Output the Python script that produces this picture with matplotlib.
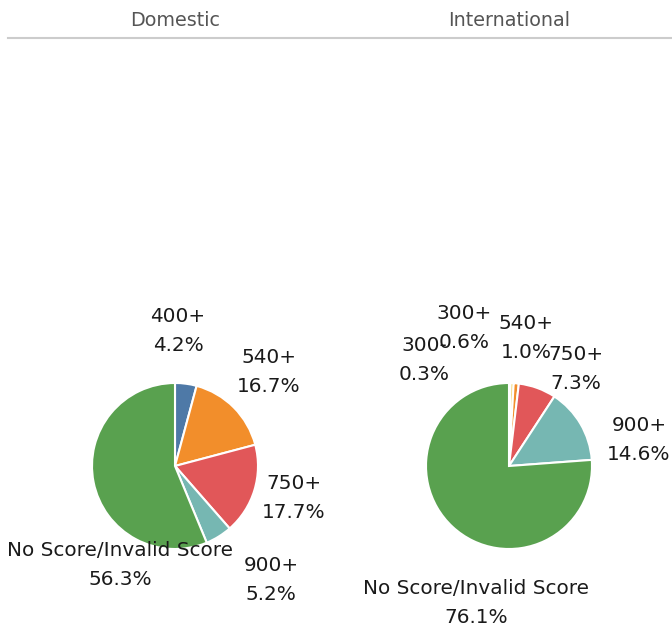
import matplotlib
matplotlib.use("Agg")
import matplotlib.pyplot as plt

# ---- data ----
dom_categories = ["400+", "540+", "750+", "900+", "No Score/Invalid Score"]
dom_values = [4.2, 16.7, 17.7, 5.2, 56.3]
int_categories = ["300-", "300+", "540+", "750+", "900+", "No Score/Invalid Score"]
int_values = [0.3, 0.6, 1.0, 7.3, 14.6, 76.1]
panel_titles = ["Domestic", "International"]

color_map = {
    "400+": "#4e79a7", "540+": "#f28e2b", "750+": "#e15759", "900+": "#76b7b2",
    "No Score/Invalid Score": "#59a14f", "300-": "#b07aa1", "300+": "#edc948",
}

# ---- layout (pixel coordinates, y measured from top) ----
W, H = 672, 632
fig = plt.figure(figsize=(W / 100, H / 100), dpi=100)
ax = fig.add_axes([0, 0, 1, 1])
ax.set_xlim(0, W)
ax.set_ylim(0, H)
ax.set_aspect("equal")
ax.axis("off")

def Y(y):
    return H - y

centers = [(175, 466), (509, 466)]
radius = 83
label_pos = [
    [(178, 331), (269, 372), (294, 498), (271, 580), (120, 565)],
    [(424, 360), (464, 328), (526, 338), (576, 369), (639, 440), (476, 603)],
]
header_x = [175, 509]

for cats, vals, (cx, cy), lpos, hx, title in zip(
        [dom_categories, int_categories], [dom_values, int_values],
        centers, label_pos, header_x, panel_titles):
    ax.pie(vals, colors=[color_map[c] for c in cats], startangle=90,
           counterclock=False, center=(cx, Y(cy)), radius=radius,
           wedgeprops=dict(edgecolor="white", linewidth=1.5), frame=True)
    for c, v, (lx, ly) in zip(cats, vals, lpos):
        ax.text(lx, Y(ly), f"{c}\n{v:.1f}%", ha="center", va="center",
                fontsize=14.4, color="#1a1a1a", linespacing=1.65)
    ax.text(hx, Y(20), title, ha="center", va="center", fontsize=13.8,
            color="#555555")

ax.plot([8, W], [Y(38), Y(38)], color="#cccccc", linewidth=1.5)
ax.set_xlim(0, W)
ax.set_ylim(0, H)
ax.axis("off")

fig.savefig("out.png", dpi=100)
